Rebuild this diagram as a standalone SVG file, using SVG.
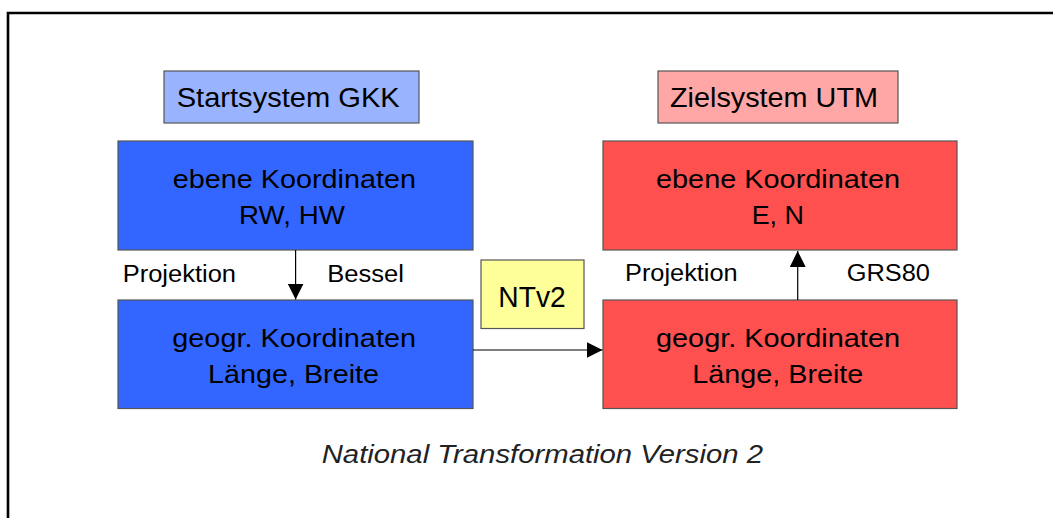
<svg xmlns="http://www.w3.org/2000/svg" width="1053" height="518" viewBox="0 0 1053 518">
  <style>
    text { font-family: "Liberation Sans", Arial, sans-serif; fill: #000; }
    .box { stroke: #555; stroke-width: 1.2; }
    .big { font-size: 25px; }
    .hdr { font-size: 27.5px; }
    .lbl { font-size: 23px; }
    .conn { stroke: #000; stroke-width: 1.2; fill: none; }
  </style>
  <defs>
    <marker id="arrow" markerUnits="userSpaceOnUse" markerWidth="16" markerHeight="16" refX="16" refY="8" orient="auto">
      <path d="M0,0 L16,8 L0,16 z" fill="#000"/>
    </marker>
  </defs>
  <rect width="1053" height="518" fill="#fff"/>
  <g id="frame">
    <path d="M8,518 L8,13 L1053,13" fill="none" stroke="#000" stroke-width="2.6"/>
  </g>

  <g id="start-header">
    <rect class="box" x="164" y="71" width="255" height="52" fill="#99b3ff"/>
    <text class="hdr" x="176.7" y="107.3" textLength="223" lengthAdjust="spacingAndGlyphs">Startsystem GKK</text>
  </g>
  <g id="target-header">
    <rect class="box" x="658" y="71" width="240" height="52" fill="#ffa6a6"/>
    <text class="hdr" x="670" y="107.3" textLength="208" lengthAdjust="spacingAndGlyphs">Zielsystem UTM</text>
  </g>

  <g id="gkk-plane">
    <rect class="box" x="118" y="141" width="355" height="109" fill="#3366ff"/>
    <text class="big" x="172.7" y="188.3" textLength="243.3" lengthAdjust="spacingAndGlyphs">ebene Koordinaten</text>
    <text class="big" x="239" y="223.7" textLength="106" lengthAdjust="spacingAndGlyphs">RW, HW</text>
  </g>
  <g id="gkk-geo">
    <rect class="box" x="118" y="300" width="355" height="108.5" fill="#3366ff"/>
    <text class="big" x="172.3" y="346.9" textLength="243.7" lengthAdjust="spacingAndGlyphs">geogr. Koordinaten</text>
    <text class="big" x="208" y="382.5" textLength="171" lengthAdjust="spacingAndGlyphs">Länge, Breite</text>
  </g>
  <g id="utm-plane">
    <rect class="box" x="603" y="141" width="354" height="109" fill="#ff5050"/>
    <text class="big" x="656" y="188.3" textLength="244" lengthAdjust="spacingAndGlyphs">ebene Koordinaten</text>
    <text class="big" x="751.7" y="223.9" textLength="52.3" lengthAdjust="spacingAndGlyphs">E, N</text>
  </g>
  <g id="utm-geo">
    <rect class="box" x="603" y="300" width="354" height="108.5" fill="#ff5050"/>
    <text class="big" x="656" y="346.9" textLength="244" lengthAdjust="spacingAndGlyphs">geogr. Koordinaten</text>
    <text class="big" x="692.3" y="382.5" textLength="171" lengthAdjust="spacingAndGlyphs">Länge, Breite</text>
  </g>
  <g id="ntv2">
    <rect class="box" x="481" y="260" width="103" height="68.5" fill="#ffff99"/>
    <text x="498.3" y="306.7" style="font-size:29px" textLength="67.4" lengthAdjust="spacingAndGlyphs">NTv2</text>
  </g>

  <g id="connectors">
    <line class="conn" x1="295.6" y1="250" x2="295.6" y2="299.5" marker-end="url(#arrow)"/>
    <line class="conn" x1="473" y1="350" x2="602.5" y2="350" marker-end="url(#arrow)"/>
    <line class="conn" x1="797.7" y1="300" x2="797.7" y2="251" marker-end="url(#arrow)"/>
  </g>

  <g id="labels">
    <text class="lbl" x="122.7" y="282.3" textLength="113.3" lengthAdjust="spacingAndGlyphs">Projektion</text>
    <text class="lbl" x="327.3" y="282" textLength="76.7" lengthAdjust="spacingAndGlyphs">Bessel</text>
    <text class="lbl" x="625" y="281.3" textLength="112.7" lengthAdjust="spacingAndGlyphs">Projektion</text>
    <text class="lbl" x="846.7" y="281.3" textLength="83.3" lengthAdjust="spacingAndGlyphs">GRS80</text>
  </g>

  <g id="caption">
    <text x="321.7" y="463.3" style="font-size:25px;font-style:italic;fill:#222" textLength="441.3" lengthAdjust="spacingAndGlyphs">National Transformation Version 2</text>
  </g>
</svg>
